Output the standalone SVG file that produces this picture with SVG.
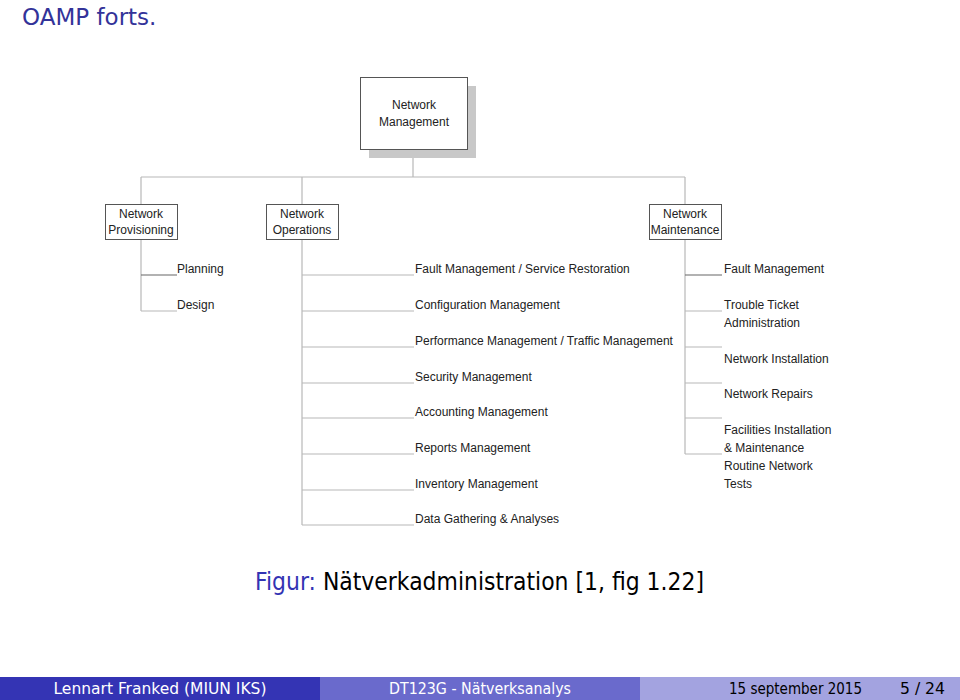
<svg xmlns="http://www.w3.org/2000/svg" width="960" height="700" viewBox="0 0 960 700">
<style>
.t{font-family:"Liberation Sans",Arial,sans-serif;font-size:12px;fill:#222}
.c{text-anchor:middle}
.box{fill:#fff;stroke:#555;stroke-width:1}
.ln{stroke:#b8b8b8;stroke-width:1.2;fill:none}
.dk{stroke:#666;stroke-width:1.2;fill:none}
.ft{font-family:"DejaVu Sans Condensed","DejaVu Sans",sans-serif;font-size:15px}
</style>
<rect width="960" height="700" fill="#fff"/>
<text x="22" y="25" font-family="'DejaVu Sans','Liberation Sans',sans-serif" font-size="23" fill="#333399">OAMP forts.</text>

<g id="connectors">
<path class="ln" d="M413,149V177M141,177H685M141,177V204M302,177V204M685,177V204"/>
<path class="ln" d="M141,239V311M141,311H177"/>
<path class="dk" d="M141,275H177"/>
<path class="ln" d="M302,239V525M302,275H414M302,311H414M302,347H414M302,383H414M302,418H414M302,454H414M302,490H414M302,525H414"/>
<path class="ln" d="M685,239V454M685,311H722M685,347H722M685,383H722M685,418H722M685,454H722"/>
<path class="dk" d="M685,275H722"/>
</g>

<g id="n-management">
<rect x="369" y="86" width="107" height="72" fill="#c8c8c8"/>
<rect class="box" x="360.5" y="77.5" width="107" height="72"/>
<text class="t c" x="414" y="109">Network</text>
<text class="t c" x="414" y="126">Management</text>
</g>
<g id="n-provisioning">
<rect class="box" x="105.5" y="204.5" width="72" height="35"/>
<text class="t c" x="141" y="218">Network</text>
<text class="t c" x="141" y="234">Provisioning</text>
</g>
<g id="n-operations">
<rect class="box" x="266.5" y="204.5" width="72" height="35"/>
<text class="t c" x="302" y="218">Network</text>
<text class="t c" x="302" y="234">Operations</text>
</g>
<g id="n-maintenance">
<rect class="box" x="649.5" y="204.5" width="72" height="35"/>
<text class="t c" x="685" y="218">Network</text>
<text class="t c" x="685" y="234">Maintenance</text>
</g>

<g id="prov-items">
<text class="t" x="177" y="273">Planning</text>
<text class="t" x="177" y="309">Design</text>
</g>
<g id="ops-items">
<text class="t" x="415" y="273">Fault Management / Service Restoration</text>
<text class="t" x="415" y="309">Configuration Management</text>
<text class="t" x="415" y="345">Performance Management / Traffic Management</text>
<text class="t" x="415" y="381">Security Management</text>
<text class="t" x="415" y="416">Accounting Management</text>
<text class="t" x="415" y="452">Reports Management</text>
<text class="t" x="415" y="488">Inventory Management</text>
<text class="t" x="415" y="523">Data Gathering &amp; Analyses</text>
</g>
<g id="maint-items">
<text class="t" x="724" y="273">Fault Management</text>
<text class="t" x="724" y="309">Trouble Ticket</text>
<text class="t" x="724" y="327">Administration</text>
<text class="t" x="724" y="363">Network Installation</text>
<text class="t" x="724" y="398">Network Repairs</text>
<text class="t" x="724" y="434">Facilities Installation</text>
<text class="t" x="724" y="452">&amp; Maintenance</text>
<text class="t" x="724" y="470">Routine Network</text>
<text class="t" x="724" y="488">Tests</text>
</g>

<text x="255" y="590" font-family="'DejaVu Sans','Liberation Sans',sans-serif" font-size="24" textLength="449" lengthAdjust="spacingAndGlyphs"><tspan fill="#3333b3">Figur:</tspan><tspan fill="#000"> Nätverkadministration [1, fig 1.22]</tspan></text>

<g id="footer">
<rect x="0" y="677" width="320" height="23" fill="#3434b4"/>
<rect x="320" y="677" width="320" height="23" fill="#6a6acc"/>
<rect x="640" y="677" width="320" height="23" fill="#a3a3e0"/>
<text class="ft" x="160" y="694" text-anchor="middle" fill="#fff" textLength="213" lengthAdjust="spacingAndGlyphs">Lennart Franked  (MIUN IKS)</text>
<text class="ft" x="480" y="694" text-anchor="middle" fill="#fff" textLength="182" lengthAdjust="spacingAndGlyphs">DT123G - Nätverksanalys</text>
<text class="ft" x="729" y="694" fill="#000" textLength="133" lengthAdjust="spacingAndGlyphs">15 september 2015</text>
<text class="ft" x="900" y="694" fill="#000" textLength="45" lengthAdjust="spacingAndGlyphs">5 / 24</text>
</g>
</svg>
